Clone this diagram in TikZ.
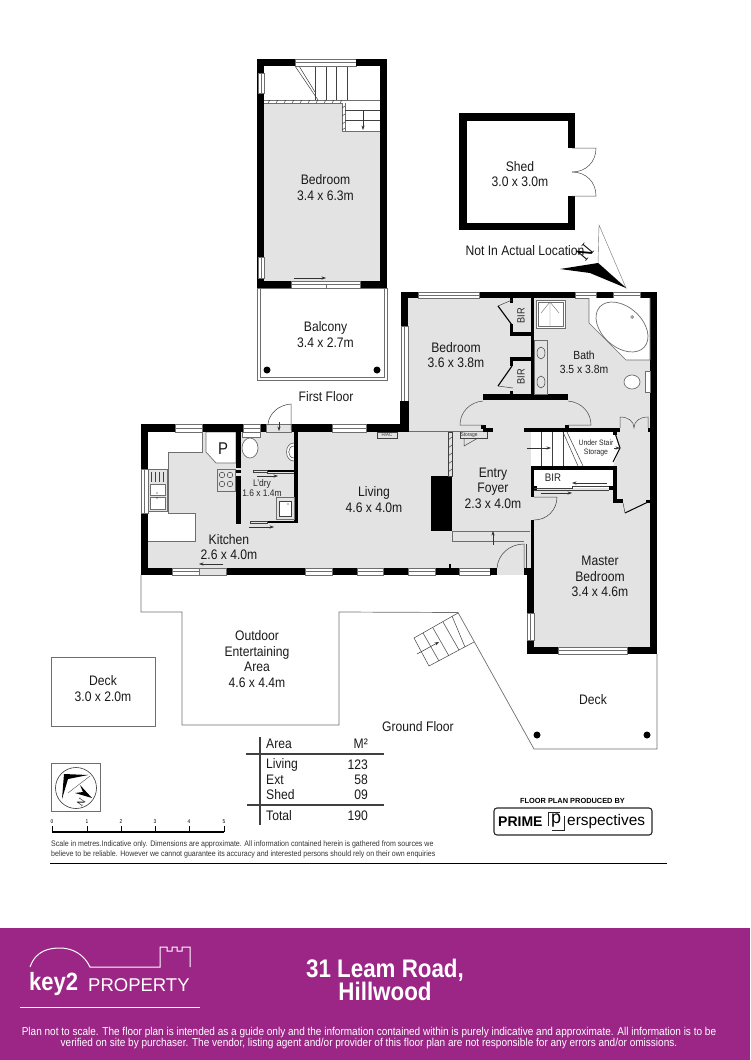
\documentclass[tikz,border=0pt]{standalone}
\usepackage{fontspec}
\setmainfont{Liberation Sans}[FakeStretch=0.88]
\newfontfamily\widefont{Liberation Sans}
\newfontfamily\northfont{Liberation Serif}
\usetikzlibrary{arrows.meta}
\definecolor{floorgrey}{HTML}{E3E3E3}
\definecolor{linegrey}{HTML}{6E6E6E}
\definecolor{bandpurple}{HTML}{9C2686}
\newcommand{\wall}[4]{\fill[black] (#1,#2) rectangle (#3,#4);}
\newcommand{\winh}[4]{\filldraw[fill=white,draw=linegrey,line width=.5pt] (#1,#2) rectangle (#3,#4); \draw[linegrey,line width=.5pt] (#1,{(#2+#4)/2}) -- (#3,{(#2+#4)/2});}
\newcommand{\winv}[4]{\filldraw[fill=white,draw=linegrey,line width=.5pt] (#1,#2) rectangle (#3,#4); \draw[linegrey,line width=.5pt] ({(#1+#3)/2},#2) -- ({(#1+#3)/2},#4);}
\tikzset{
  lbl/.style={font=\fontsize{13.8}{15.5}\selectfont,align=center,inner sep=0pt,text=black!90},
  midlbl/.style={font=\fontsize{11.8}{14}\selectfont,align=center,inner sep=0pt,text=black!90},
  tinylbl/.style={font=\fontsize{9.6}{10.5}\selectfont,align=center,inner sep=0pt,text=black!85},
  thin line/.style={draw=linegrey,line width=.7pt},
  fine/.style={draw=black!75,line width=.5pt},
  arr/.style={draw=black!80,line width=.5pt,-{Stealth[length=4.5pt,width=3.2pt]}},
  dot/.style={circle,fill=black,inner sep=0pt,minimum size=7pt},
}
\begin{document}
\begin{tikzpicture}[x=1pt,y=-1pt]
\useasboundingbox (0,0) rectangle (750,1060);
% ---------- floors
\fill[floorgrey] (264,103) -- (342,103) -- (342,131) -- (380,131) -- (380,281) -- (264,281) -- cycle;
\fill[floorgrey] (408,298) rectangle (650,432);
\fill[floorgrey] (148,432) rectangle (534,568);
\fill[floorgrey] (497,568) rectangle (524,575);
\fill[floorgrey] (199,568) rectangle (226,575);
\fill[floorgrey] (530,432) rectangle (650,647);
% white fittings
\fill[white] (148,432) -- (202,432) -- (202,452) -- (168,452) -- (168,513) -- (195,513) -- (195,541) -- (148,541) -- cycle;
\filldraw[fill=white,thin line] (206,432) -- (236,432) -- (236,463) -- (216,463) -- (206,452) -- cycle;
\draw[thin line] (202,432) -- (202,452) -- (168,452) -- (168,513) -- (195,513) -- (195,541) -- (148,541);
\fill[white] (531,432) -- (615,432) -- (620,448) -- (613,466) -- (531,466) -- cycle;
\fill[white] (534,470) rectangle (613,488);
% ---------- upper bedroom
\draw[fine] (315,66) -- (315,100) (326,66) -- (326,100) (336,66) -- (336,100) (347,66) -- (347,100);
\draw[fine] (295,66) -- (318,100) (299,66) -- (315,92);
\draw[thin line] (264,100) -- (380,100) (264,103) -- (342,103) -- (342,131) -- (380,131) (345,103) -- (345,131);
\foreach \hx in {268,276,...,340} \draw[fine] (\hx,103) -- (\hx+2,100);
\foreach \hy in {108,116,124,130} \draw[fine] (342,\hy) -- (345,\hy-2);
\draw[fine] (345,110) -- (380,110) (345,120) -- (380,120);
\draw[arr] (363,110) -- (363,130);
\winh{295}{59}{356}{66}
\wall{257}{59}{295}{66}
\wall{356}{59}{387}{66}
\wall{257}{59}{264}{288}
\wall{380}{59}{387}{288}
\winv{258}{73}{264}{93}
\winv{258}{257}{264}{278}
\wall{257}{281}{291}{288}
\wall{360}{281}{387}{288}
\filldraw[fill=white,draw=linegrey,line width=.5pt] (291,281) rectangle (360,288);
\draw[linegrey,line width=.5pt] (291,284) -- (326,284) -- (326,288) (326,284) -- (360,284);
\draw[arr] (294,278) -- (326,278);
% balcony
\draw[thin line] (257,288) rectangle (387,380);
\draw[linegrey,line width=.4pt] (260,288) -- (260,377) -- (384,377) -- (384,288);
\node[dot] (balconyL) at (267,370) {};
\node[dot] (balconyR) at (377,370) {};
% ---------- shed
\wall{459}{113}{575}{120.5}
\wall{459}{222.5}{575}{230}
\wall{459}{113}{466.5}{230}
\wall{568}{113}{575}{148}
\wall{568}{196}{575}{230}
\draw[fine,draw=black!70] (572,148) -- (596,148) .. controls (596,162) and (586,172) .. (572,172);
\draw[fine,draw=black!70] (572,196) -- (596,196) .. controls (596,182) and (586,172) .. (572,172);
% north arrow
\draw[linegrey,line width=.4pt] (599,225) -- (626,288) -- (598,263) -- cycle;
\fill[black] (560,269) -- (598,263) -- (626,288) -- (590,273) -- cycle;
% ---------- main building upper walls
\wall{401}{292}{657}{298}
\winh{418}{292}{479}{298}
\winh{575}{292}{596}{298}
\winh{613}{292}{640}{298}
\wall{401}{292}{408}{326}
\winv{401}{326}{408}{401}
\wall{400}{401}{409}{432}
\wall{650}{292}{657}{654}
% closets
\fill[floorgrey] (513,298) rectangle (531,394);
\wall{530.7}{298}{534}{400}
\wall{510}{298}{513}{303}
\wall{510}{332}{531}{336}
\wall{510}{324}{513}{336}
\wall{510}{357}{531}{361}
\wall{510}{357}{513}{366}
\wall{510}{391}{513}{396}
\draw[fine] (512,300) -- (498,306);
\draw[black,line width=1.1pt] (498,306) -- (512,325);
\draw[fine] (513,388) -- (498,386);
\draw[black,line width=1.1pt] (498,386) -- (512,366);
% hall
\wall{483}{394}{568}{400}
\wall{483}{428}{493}{432}
\wall{524}{428}{620}{432}
\wall{648}{428}{650}{432}
\draw[thin line] (409,431) -- (483,431);
\fill[black] (481,425) rectangle (486,429);
\fill[black] (565,425) rectangle (569,429);
\draw[fine,draw=black!70] (483,401) .. controls (470,402) and (460,412) .. (460,425) -- (483,425);
\draw[fine,draw=black!70] (568,401) .. controls (581,402) and (591,412) .. (591,425) -- (568,425);
\draw[fine,draw=black!70] (620,428) -- (620,417) .. controls (628,417) and (634,421) .. (634,428) .. controls (634,421) and (640,417) .. (648,417) -- (648,428);
% bath fittings
\filldraw[fill=white,thin line] (536,300) rectangle (565,328);
\draw[linegrey,line width=.4pt] (538,302) rectangle (563,326);
\draw[linegrey,line width=.4pt] (550,302) -- (550,326) (541,313) -- (550,302) -- (559,313);
\filldraw[fill=white,thin line] (589,298) -- (589,323) -- (626,360) -- (650,360) -- (650,298);
\draw[thin line,rotate around={-42:(622,327)}] (622,327) ellipse (30pt and 20pt);
\draw[fine] (632,317) circle (1.4pt);
\filldraw[fill=floorgrey,thin line] (534,340) rectangle (547,394);
\draw[fine] (541,353) ellipse (4pt and 6pt) (541,382) ellipse (4pt and 6pt);
\filldraw[fill=white,thin line] (632,382) ellipse (8pt and 7pt);
\filldraw[fill=white,thin line] (645,371) rectangle (650,392);
% storage & stairs
\draw[fine] (541,432) -- (541,466) (552,432) -- (552,466) (563,432) -- (563,466);
\draw[fine] (563,432) -- (578,466) (567,432) -- (583,466);
\draw[arr] (527,448) -- (551,448);
\wall{531}{466}{617}{470}
\wall{531}{466}{534}{497}
\wall{613}{466}{617}{502}
\wall{613}{499}{623}{503}
\wall{646}{500}{650}{503}
\fill[black] (533,486) rectangle (537,490);
\fill[black] (609,486) rectangle (613,490);
\fill[black] (613,431) rectangle (617,435);
\draw[black,line width=1pt] (615,433) -- (620,448) -- (613,462);
\draw[black,line width=1pt] (625,513) -- (648,502);
\draw[fine] (623,503) -- (625,513);
\draw[fine] (534,488) -- (572,488) -- (572,486) -- (609,486) (534,490) -- (609,490);
\draw[arr] (607,483) -- (572,483);
\draw[arr] (541,493) -- (572,493);
\draw[fine] (534,497) -- (557,497) .. controls (557,510) and (547,520) .. (534,520);
\draw[arr] (614,448) -- (620,448);
% fire & storage in living
\wall{431}{476}{452}{531}
\filldraw[fill=floorgrey,fine] (448,432) rectangle (452,476);
\foreach \hy in {440,448,...,472} \draw[fine] (448,\hy) -- (452,\hy-3);
\draw[fine] (460,432) -- (460,438) -- (487,438) -- (487,432);
\draw[fine] (464,438) -- (464,446) -- (478,438);
\draw[thin line] (530,531) -- (452,531) -- (452,541) -- (524,541);
\draw[arr] (493,545) -- (493,531);
\draw[fine] (524,568) -- (524,544) .. controls (510,544) and (498,554) .. (497,568);
\draw[fine] (526,544) -- (526,568);
% master walls
\wall{531}{520}{534}{575}
\wall{524}{568}{534}{575}
\wall{527}{575}{534}{654}
\winv{527}{613}{534}{640}
\wall{527}{647}{657}{654}
\winh{558}{647}{627}{654}
% ---------- kitchen/living walls
\wall{141}{424}{400}{432}
\winh{175}{424}{202}{432}
\winh{243}{424}{260}{432}
\filldraw[fill=floorgrey,draw=linegrey,line width=.4pt] (266,424) rectangle (291,432);
\draw[arr] (279,422) -- (279,431);
\draw[fine] (268,424) .. controls (269,414) and (278,405) .. (291,404) -- (291,430);
\winh{332}{424}{366}{432}
\wall{141}{424}{148}{575}
\winv{141}{469}{148}{513}
\wall{141}{568}{497}{575}
\fill[black] (449,564) rectangle (451,568);
\winh{172}{568}{199}{575}
\filldraw[fill=floorgrey,draw=linegrey,line width=.4pt] (199,568) rectangle (226,575);
\draw[arr] (223,564) -- (199,564);
\winh{305}{568}{332}{575}
\winh{357}{568}{383}{575}
\winh{408}{568}{435}{575}
\winh{459}{568}{490}{575}
\fill[floorgrey] (497,568) rectangle (524,575);
\wall{524}{568}{534}{575}
\wall{490}{568}{497}{575}
% laundry
\wall{236}{432}{241}{468}
\wall{236}{470}{241}{473}
\wall{236}{476}{241}{524}
\wall{294}{432}{298}{523}
\wall{267}{470}{294}{472}
\draw[fine] (253,470) rectangle (267,472) (267,473.5) -- (294,473.5);
\wall{267}{521}{298}{523}
\draw[fine] (250,521) rectangle (267,523);
\draw[arr] (257,476) -- (278,476);
\draw[arr] (249,527) -- (274,527);
\filldraw[fill=floorgrey,thin line] (217,469) rectangle (235,491);
\foreach \cx/\cy in {222/475,230/475,222/484,230/484} \draw[fine] (\cx,\cy) circle (2.8pt);
\filldraw[fill=white,thin line] (242,432) rectangle (260,437);
\filldraw[fill=white,thin line] (250,448) ellipse (8pt and 10pt);
\filldraw[fill=white,thin line] (294,443) .. controls (284,443) and (284,461) .. (294,461);
\draw[fine] (294,446) .. controls (287,446) and (287,458) .. (294,458);
\filldraw[fill=floorgrey,thin line] (276,497) rectangle (294,519);
\filldraw[fill=white,fine] (279,501) rectangle (291,516);
\fill[black] (288,504) circle (.6pt);
% sink
\filldraw[fill=floorgrey,thin line] (148,469) rectangle (167,511);
\foreach \sx in {151,155,159,163} \draw[fine] (\sx,472) -- (\sx,482);
\filldraw[fill=white,thin line] (150,484) rectangle (165,495);
\filldraw[fill=white,thin line] (150,497) rectangle (165,509);
\fill[black] (157,493) circle (.7pt) (157,498) circle (.7pt);
% HVAC box
\filldraw[fill=floorgrey,fine] (377,432) rectangle (397,438);
% ---------- outdoor outlines
\draw[thin line] (141,575) -- (141,612) -- (182,612) -- (182,725) -- (339,725) -- (339,612) -- (458,612.5) -- (534,749) -- (657,749) -- (657,654);
\draw[fine] (414,638) -- (458,613) (474,642) -- (429,666) -- (414,638);
\draw[fine] (423,633) -- (439,661) (433,628) -- (449,656) (443,622) -- (459,650) (452,616) -- (465,647);
\draw[arr] (417,654) -- (439,642);
\node[dot] (deckL) at (537,735) {};
\node[dot] (deckR) at (647,735) {};
\draw[thin line] (51,657) rectangle (155,726);
% ---------- room labels
\node[lbl] (bedroomUp) at (325.5,187.5) {Bedroom\\3.4 x 6.3m};
\node[lbl] (balcony) at (325.5,334.5) {Balcony\\3.4 x 2.7m};
\node[lbl] (shed) at (520,174) {Shed\\3.0 x 3.0m};
\node[lbl] (notactual) at (525,251) {Not In Actual Location};
\node[font=\northfont\fontsize{20}{20}\selectfont,rotate=-130,inner sep=0pt] (northN) at (585,252) {N};
\node[lbl] (bedroom2) at (456,355) {Bedroom\\3.6 x 3.8m};
\node[midlbl] (bath) at (584,362) {Bath\\3.5 x 3.8m};
\node[tinylbl,font=\fontsize{10.5}{11}\selectfont,rotate=90] (bir1) at (521,316) {BIR};
\node[tinylbl,font=\fontsize{10.5}{11}\selectfont,rotate=90] (bir2) at (521,377) {BIR};
\node[lbl] (firstfloor) at (326,397) {First Floor};
\node[lbl,font=\fontsize{17}{17}\selectfont] (pantry) at (223,449) {P};
\node[tinylbl] (ldry) at (262,488) {L'dry\\1.6 x 1.4m};
\node[lbl] (living) at (374,499.5) {Living\\4.6 x 4.0m};
\node[lbl] (kitchen) at (229,547) {Kitchen\\2.6 x 4.0m};
\node[font=\fontsize{5}{5}\selectfont,inner sep=0pt,text=black!80] (hvac) at (387,435) {H/AC};
\node[font=\fontsize{5.5}{5.5}\selectfont,inner sep=0pt,text=black!80] (storage) at (469,435) {Storage};
\node[lbl] (foyer) at (493,488) {Entry\\Foyer\\2.3 x 4.0m};
\node[font=\fontsize{7.8}{9.5}\selectfont,align=center,inner sep=0pt,text=black!85] (understair) at (596,448) {Under Stair\\Storage};
\node[tinylbl,font=\fontsize{11}{11}\selectfont] (bir3) at (553,478) {BIR};
\node[lbl] (master) at (600,576.5) {Master\\Bedroom\\3.4 x 4.6m};
\node[lbl] (outdoor) at (257,659) {Outdoor\\Entertaining\\Area\\4.6 x 4.4m};
\node[lbl] (groundfloor) at (418,727) {Ground Floor};
\node[lbl] (deck) at (593,700) {Deck};
\node[lbl] (deckLeft) at (103,688.5) {Deck\\3.0 x 2.0m};
% ---------- compass
\draw[linegrey,line width=.8pt] (51,763) rectangle (100,811);
\draw[black!80,line width=.6pt] (76,788) circle (20.5pt);
\fill[black] (88,775) -- (64,774) -- (62,799) -- (68,779) -- cycle;
\draw[black!70,line width=.4pt] (90,776) -- (68,793);
\fill[black] (80,785) -- (92,798) -- (75,793) -- (83,792) -- cycle;
\node[font=\northfont\fontsize{10}{10}\selectfont,rotate=-125,inner sep=0pt] (northSmall) at (81,802) {N};
% ---------- scale
\draw[black,line width=1.1pt] (52,832) -- (224,832);
\foreach \sx/\sv/\sn in {52/0/a,87/1/b,121/2/c,155/3/d,189/4/e,224/5/f}{
  \draw[black,line width=.7pt] (\sx,826) -- (\sx,832);
  \node[font=\fontsize{5.5}{5.5}\selectfont,inner sep=0pt] (scale\sn) at (\sx,822) {\sv};
}
% ---------- table
\draw[black!75,line width=1.1pt] (260,737) -- (260,825);
\draw[black!75,line width=1.1pt] (246,754) -- (384,754) (247,805) -- (384,805);
\foreach \tn/\ty/\ta/\tb in {h/744/Area/M²,l/765/Living/123,e/780/Ext/58,s/795/Shed/09,t/816/Total/190}{
  \node[lbl,anchor=west] (tabA\tn) at (266,\ty) {\ta};
  \node[lbl,anchor=east] (tabB\tn) at (368,\ty) {\tb};
}
% ---------- producer logo
\node[font=\widefont\bfseries\fontsize{7.4}{8}\selectfont,inner sep=0pt] (producedby) at (572.5,801) {FLOOR PLAN PRODUCED BY};
\draw[black!85,line width=1.1pt,rounded corners=3pt] (494,808) rectangle (652,835);
\node[font=\widefont\bfseries\fontsize{14}{14}\selectfont,inner sep=0pt,anchor=west] (prime) at (498,822) {PRIME};
\draw[black!85,line width=.7pt] (548,826) -- (548,812) -- (560,812) (552,830) -- (564,830) -- (564,816);
\node[font=\widefont\fontsize{18}{18}\selectfont,inner sep=0pt] (primeP) at (556,821) {p};
\node[font=\widefont\fontsize{15.4}{15}\selectfont,inner sep=0pt,anchor=west] (perspectives) at (567,821.5) {erspectives};
% ---------- disclaimer
\node[font=\fontsize{8}{10}\selectfont,align=left,inner sep=0pt,anchor=west,text=black!80] (disclaimer) at (51,849) {Scale in metres.Indicative only. Dimensions are approximate. All information contained herein is gathered from sources we\\believe to be reliable. However we cannot guarantee its accuracy and interested persons should rely on their own enquiries};
\draw[black,line width=.9pt] (50,863) -- (667,863);
% ---------- band
\fill[bandpurple] (0,928) rectangle (750,1060);
\draw[white,line width=1pt] (30,967) .. controls (36,950) and (50,948) .. (60,948) .. controls (72,948) and (84,954) .. (90,967) -- (160,967) -- (160,947) -- (167,947) -- (167,951) -- (172,951) -- (172,947) -- (177,947) -- (177,951) -- (182,951) -- (182,947) -- (190,947) -- (190,967);
\draw[white,line width=1pt] (20,1007) -- (200,1007);
\node[font=\bfseries\fontsize{25}{25}\selectfont,text=white,inner sep=0pt,anchor=west] (keytwo) at (29,984) {key2};
\node[font=\widefont\fontsize{18.5}{18.5}\selectfont,text=white,inner sep=0pt,anchor=west] (property) at (88,985) {PROPERTY};
\node[font=\bfseries\fontsize{25.4}{23}\selectfont,text=white,align=center,inner sep=0pt] (address) at (385,979.5) {31 Leam Road,\\Hillwood};
\node[font=\fontsize{11.4}{10.6}\selectfont,text=white,align=center,inner sep=0pt] (notscale) at (369,1038) {Plan not to scale. The floor plan is intended as a guide only and the information contained within is purely indicative and approximate. All information is to be\\verified on site by purchaser. The vendor, listing agent and/or provider of this floor plan are not responsible for any errors and/or omissions.};
\end{tikzpicture}
\end{document}
